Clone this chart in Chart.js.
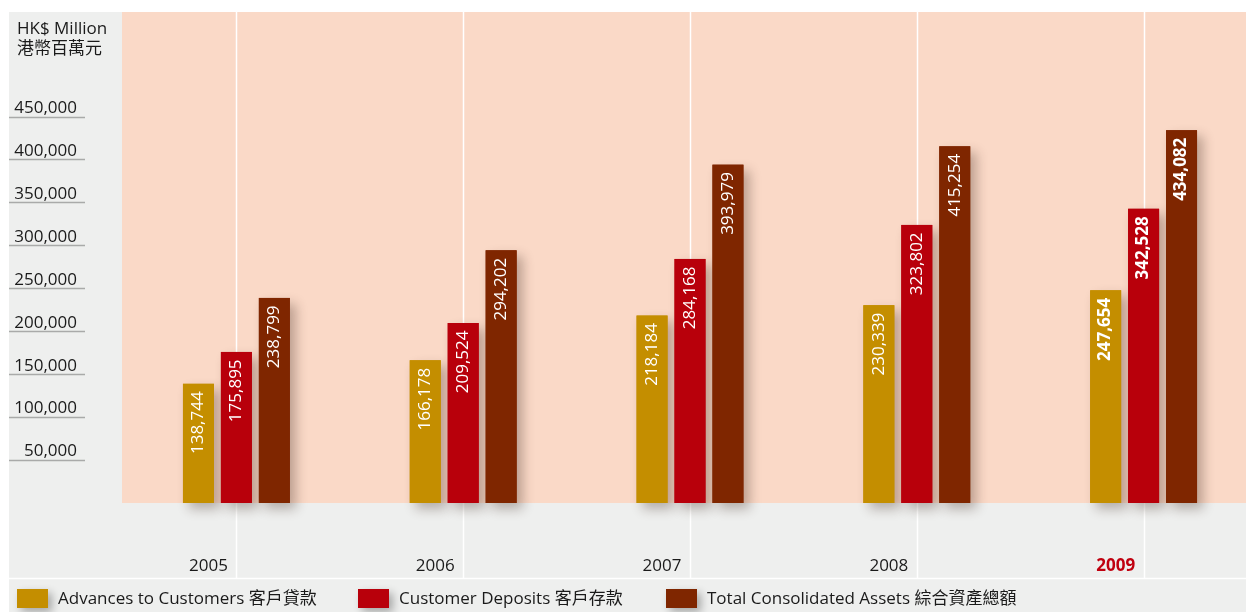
<!DOCTYPE html>
<html>
<head>
<meta charset="utf-8">
<script src="https://cdn.jsdelivr.net/npm/chart.js@4/dist/chart.umd.min.js"></script>
<style>
  html, body { margin: 0; padding: 0; background: #ffffff; overflow: hidden; }
  #wrap { position: relative; width: 1257px; height: 612px; }
</style>
</head>
<body>
<div id="wrap"><canvas id="c"></canvas></div>
<script>
// ---- data ----
const years = ['2005', '2006', '2007', '2008', '2009'];
const advances = [138744, 166178, 218184, 230339, 247654];
const deposits = [175895, 209524, 284168, 323802, 342528];
const assets = [238799, 294202, 393979, 415254, 434082];
const yTickValues = [50000, 100000, 150000, 200000, 250000, 300000, 350000, 400000, 450000];
const seriesNames = ['Advances to Customers 客戶貸款', 'Customer Deposits 客戶存款', 'Total Consolidated Assets 綜合資產總額'];
const unitLines = ['HK$ Million', '港幣百萬元'];

// ---- styles ----
const FONT = '"Open Sans", "Noto Sans CJK TC", sans-serif';
const COLORS = ['#c48e00', '#b8000b', '#7f2600'];
const PEACH = '#fad9c7';
const GREY = '#eeefee';
const TEXT = '#1a1a1a';
const HILITE = '#c0000f';

const fmt = v => v.toLocaleString('en-US');

const decor = {
  id: 'decor',
  beforeDraw(chart) {
    const { ctx, chartArea: a, scales: { x } } = chart;
    ctx.save();
    ctx.fillStyle = GREY;
    ctx.fillRect(9, 12, chart.width - 9, chart.height - 12);
    ctx.fillStyle = PEACH;
    ctx.fillRect(a.left - 1, a.top, a.right - a.left + 1, a.bottom - a.top);
    ctx.strokeStyle = '#ffffff';
    ctx.lineWidth = 1.5;
    x.ticks.forEach((t, i) => {
      const px = Math.round(x.getPixelForTick(i)) + 0.5;
      ctx.beginPath();
      ctx.moveTo(px, a.top);
      ctx.lineTo(px, 578);
      ctx.stroke();
    });
    ctx.beginPath();
    ctx.moveTo(9, 578.5);
    ctx.lineTo(chart.width, 578.5);
    ctx.stroke();
    const y = chart.scales.y;
    ctx.strokeStyle = '#a9aaa9';
    ctx.lineWidth = 1.5;
    y.ticks.forEach(t => {
      const py = Math.round(y.getPixelForValue(t.value)) + 0.5;
      ctx.beginPath();
      ctx.moveTo(9, py);
      ctx.lineTo(85, py);
      ctx.stroke();
    });
    ctx.fillStyle = TEXT;
    ctx.font = '17px ' + FONT;
    ctx.textAlign = 'left';
    ctx.textBaseline = 'middle';
    ctx.fillText(unitLines[0], 17, 29);
    ctx.fillText(unitLines[1], 17, 49);
    ctx.restore();
  },
  beforeDatasetsDraw(chart) {
    const { ctx } = chart;
    ctx.save();
    ctx.shadowColor = 'rgba(60,40,30,0.33)';
    ctx.shadowBlur = 12;
    ctx.shadowOffsetX = 6;
    ctx.shadowOffsetY = 6;
    chart.data.datasets.forEach((ds, di) => {
      const meta = chart.getDatasetMeta(di);
      meta.data.forEach(bar => {
        const w = bar.width;
        ctx.fillStyle = ds.backgroundColor;
        ctx.fillRect(bar.x - w / 2, bar.y, w, bar.base - bar.y);
      });
    });
    ctx.restore();
  },
  afterDatasetsDraw(chart) {
    const { ctx } = chart;
    ctx.save();
    chart.data.datasets.forEach((ds, di) => {
      const meta = chart.getDatasetMeta(di);
      meta.data.forEach((bar, i) => {
        ctx.save();
        ctx.translate(bar.x, bar.y + 7.5);
        ctx.rotate(-Math.PI / 2);
        ctx.fillStyle = '#ffffff';
        ctx.font = (i === years.length - 1 ? 'bold ' : '') + '17px ' + FONT;
        ctx.textAlign = 'right';
        ctx.textBaseline = 'middle';
        ctx.fillText(fmt(ds.data[i]), 0, 0);
        ctx.restore();
      });
    });
    ctx.restore();
  },
  afterDraw(chart) {
    const { ctx } = chart;
    const starts = [17, 358, 666];
    ctx.save();
    chart.data.datasets.forEach((ds, di) => {
      const x0 = starts[di];
      ctx.save();
      ctx.shadowColor = 'rgba(0,0,0,0.3)';
      ctx.shadowBlur = 8;
      ctx.shadowOffsetX = 4;
      ctx.shadowOffsetY = 4;
      ctx.fillStyle = ds.backgroundColor;
      ctx.fillRect(x0, 589, 31, 19);
      ctx.restore();
      ctx.fillStyle = TEXT;
      ctx.font = '17px ' + FONT;
      ctx.textAlign = 'left';
      ctx.textBaseline = 'middle';
      ctx.fillText(ds.label, x0 + 41, 599);
    });
    ctx.restore();
  }
};

new Chart(document.getElementById('c'), {
  type: 'bar',
  data: {
    labels: years,
    datasets: [
      { label: seriesNames[0], data: advances, backgroundColor: COLORS[0] },
      { label: seriesNames[1], data: deposits, backgroundColor: COLORS[1] },
      { label: seriesNames[2], data: assets, backgroundColor: COLORS[2] }
    ]
  },
  options: {
    responsive: true,
    maintainAspectRatio: false,
    animation: false,
    devicePixelRatio: 1,
    layout: { padding: { top: 12, left: 0, right: 0, bottom: 0 } },
    datasets: { bar: { categoryPercentage: 0.502, barPercentage: 0.816, borderWidth: 0 } },
    plugins: { legend: { display: false }, tooltip: { enabled: false } },
    scales: {
      x: {
        grid: { display: false, drawTicks: false },
        border: { display: false },
        afterFit(scale) {
          scale.height = 109;
          scale.paddingLeft = 0; scale.paddingRight = 0;
          scale.paddingTop = 0; scale.paddingBottom = 0;
        },
        ticks: {
          align: 'end',
          labelOffset: -8.5,
          padding: 53,
          maxRotation: 0,
          autoSkip: false,
          color: ctx => ctx.index === years.length - 1 ? HILITE : TEXT,
          font: ctx => ({ family: FONT, size: 17, weight: ctx.index === years.length - 1 ? 'bold' : 'normal' })
        }
      },
      y: {
        min: 0,
        max: 571700,
        grid: { display: false, drawTicks: false },
        border: { display: false },
        afterFit(scale) {
          scale.width = 123;
          scale.paddingTop = 0; scale.paddingBottom = 0;
          scale.paddingLeft = 0; scale.paddingRight = 0;
        },
        afterBuildTicks(scale) { scale.ticks = yTickValues.map(v => ({ value: v })); },
        ticks: {
          padding: 46,
          labelOffset: -8.5,
          color: TEXT,
          font: { family: FONT, size: 17 },
          callback: v => fmt(v)
        }
      }
    }
  },
  plugins: [decor]
});
</script>
</body>
</html>
